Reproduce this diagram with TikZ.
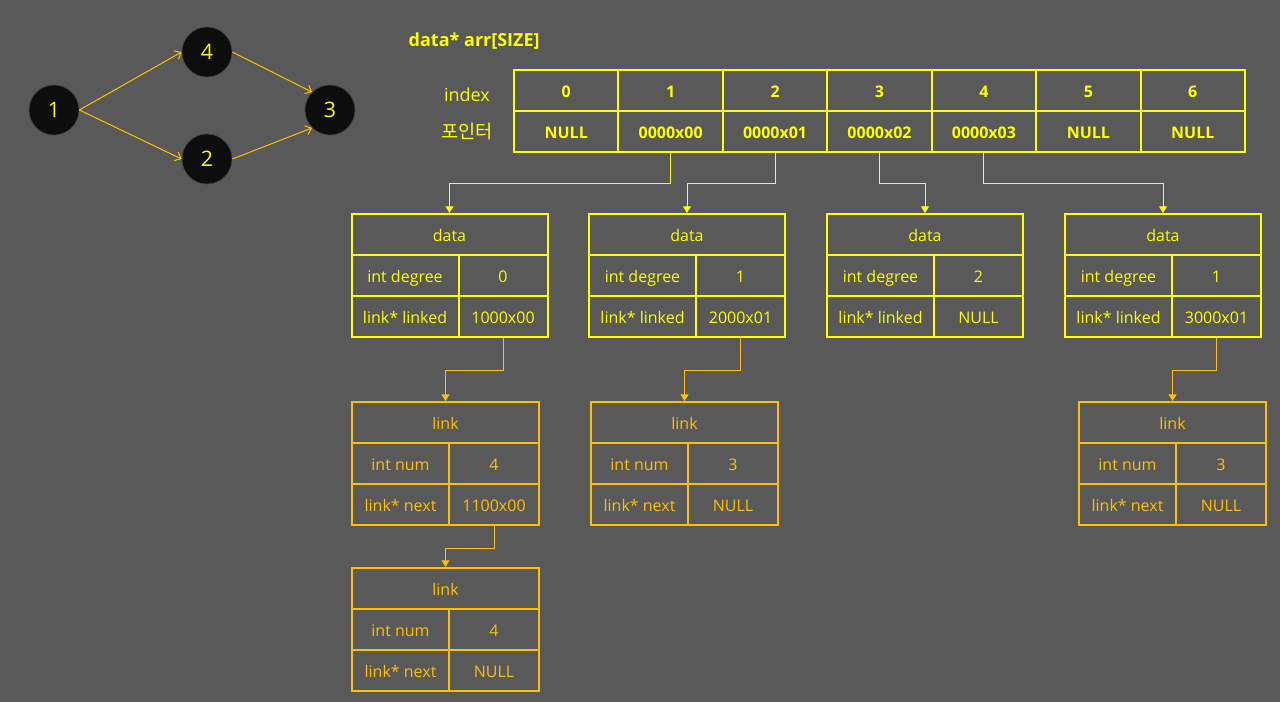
\documentclass[tikz,border=0pt]{standalone}
\usepackage{fontspec}
\setmainfont{Open Sans}
\newfontfamily\krfont{Noto Sans CJK KR}
\usetikzlibrary{arrows.meta}

\begin{document}
\begin{tikzpicture}[x=0.75pt,y=0.75pt]

% Colours
\definecolor{colBg}{HTML}{595959}
\definecolor{colYel}{HTML}{FFFF00}
\definecolor{colAmb}{HTML}{FFC000}
\definecolor{colNode}{HTML}{0D0D0D}
\definecolor{colRim}{HTML}{404040}

% One pixel of the sheet, and the array column width
\def\px{0.75pt}
\def\cw{104.43}

\tikzset{
  basecell/.style={draw, line width=1.5pt, inner sep=0pt, minimum height=41*\px,
    text height=11pt, text depth=1pt, font=\fontsize{12}{14}\selectfont},
  arrcell/.style={basecell, draw=colYel, text=colYel, minimum width=\cw*\px,
    font=\fontsize{12}{14}\selectfont\bfseries},
  datacell/.style={basecell, draw=colYel, text=colYel},
  linkcell/.style={basecell, draw=colAmb, text=colAmb},
  vert/.style={circle, fill=colNode, draw=colRim, line width=0.5pt, minimum size=50*\px,
    inner sep=0pt, text=colYel, font=\fontsize{16}{18}\selectfont},
  grapharrow/.style={draw=colAmb, line width=0.75pt, -{Straight Barb[length=4pt,width=7pt]}},
  ptrarrow/.style={line width=0.75pt, -{Triangle[length=5pt,width=6pt]}},
}

% Background
\fill[colBg] (0,0) rectangle (1280,-702);

% Graph
\node[vert] (v1) at (54,-110) {1};
\node[vert] (v4) at (207,-52) {4};
\node[vert] (v2) at (207,-159) {2};
\node[vert] (v3) at (330,-110) {3};
\draw[grapharrow] (v1.east) -- (v4.west);
\draw[grapharrow] (v1.east) -- (v2.west);
\draw[grapharrow] (v4.east) -- (v3.135);
\draw[grapharrow] (v2.east) -- (v3.225);

% Array
\node[anchor=west, text=colYel, font=\fontsize{13.5}{16}\selectfont\bfseries] (title) at (404,-41) {data* arr[SIZE]};
\node[text=colYel, font=\fontsize{13.5}{16}\selectfont] (lblidx) at (467,-95) {index};
\node[text=colYel, font=\krfont\fontsize{14}{16}\selectfont] (lblptr) at (467,-132) {포인터};

\foreach \i/\v in {0/NULL,1/0000x00,2/0000x01,3/0000x02,4/0000x03,5/NULL,6/NULL}{
  \node[arrcell] (idx\i) at ({514+\cw*(\i+0.5)},-90.5) {\i};
  \node[arrcell] (ptr\i) at ({514+\cw*(\i+0.5)},-131.5) {\v};
}

% data structs
\foreach \n/\x/\d/\l in {1/351.5/0/1000x00,2/589/1/2000x01,3/827/2/NULL,4/1065/1/3000x01}{
  \node[datacell, minimum width=196*\px] (dat\n) at ({\x+98},-234.5) {data};
  \node[datacell, minimum width=107*\px] (deg\n) at ({\x+53.5},-275.5) {int degree};
  \node[datacell, minimum width=89*\px] (degv\n) at ({\x+151.5},-275.5) {\d};
  \node[datacell, minimum width=107*\px] (lnk\n) at ({\x+53.5},-316.5) {link* linked};
  \node[datacell, minimum width=89*\px] (lnkv\n) at ({\x+151.5},-316.5) {\l};
}

% link structs
\foreach \n/\x/\y/\k/\nx in {a/352/402/4/1100x00,b/591/402/3/NULL,c/1079/402/3/NULL,d/352/568/4/NULL}{
  \node[linkcell, minimum width=187*\px] (lh\n) at ({\x+93.5},{-\y-20.5}) {link};
  \node[linkcell, minimum width=97*\px] (lnum\n) at ({\x+48.5},{-\y-61.5}) {int num};
  \node[linkcell, minimum width=90*\px] (lnumv\n) at ({\x+142},{-\y-61.5}) {\k};
  \node[linkcell, minimum width=97*\px] (lnext\n) at ({\x+48.5},{-\y-102.5}) {link* next};
  \node[linkcell, minimum width=90*\px] (lnextv\n) at ({\x+142},{-\y-102.5}) {\nx};
}

% Pointers
\draw[ptrarrow, colYel] (ptr1.south) -- ++(0,-31) -| (dat1.north);
\draw[ptrarrow, colYel] (ptr2.south) -- ++(0,-31) -| (dat2.north);
\draw[ptrarrow, colYel] (ptr3.south) -- ++(0,-31) -| (dat3.north);
\draw[ptrarrow, colYel] (ptr4.south) -- ++(0,-31) -| (dat4.north);
\draw[ptrarrow, colAmb] (lnkv1.south) -- ++(0,-32) -| (lha.north);
\draw[ptrarrow, colAmb] (lnkv2.south) -- ++(0,-32) -| (lhb.north);
\draw[ptrarrow, colAmb] (lnkv4.south) -- ++(0,-32) -| (lhc.north);
\draw[ptrarrow, colAmb] (lnextva.south) -- ++(0,-22) -| (lhd.north);

\end{tikzpicture}
\end{document}
